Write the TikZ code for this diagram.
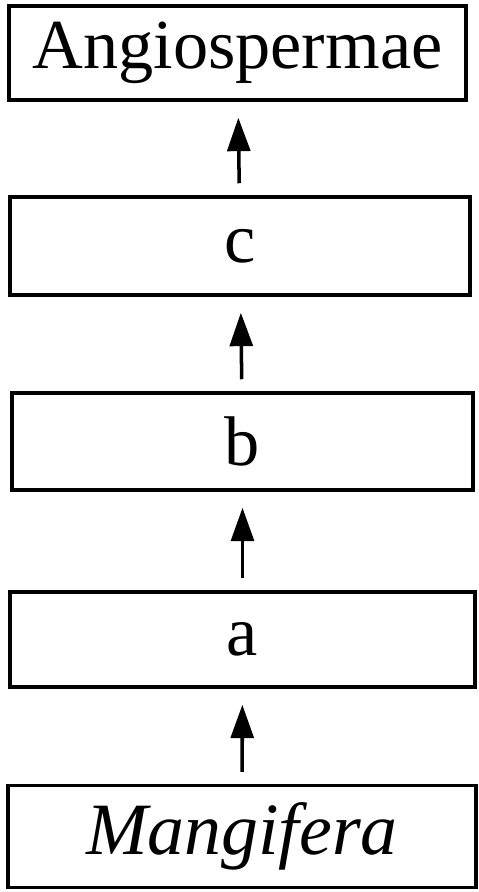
\documentclass[tikz,border=0pt]{standalone}
\usepackage{fontspec}
\setmainfont{Liberation Serif}
\usepackage{tikz}
\usetikzlibrary{arrows.meta}
\tikzstyle{taxon}=[rectangle,fill=white,draw=black,line width=1.0pt,inner sep=0pt,minimum width=4.6cm,minimum height=0.96cm,font=\fontsize{20}{24}\selectfont]
\tikzstyle{uparrow}=[-{Triangle[length=9.5pt,width=6.5pt]},line width=1.0pt,shorten <=.12cm,shorten >=.16cm]
\pgfdeclarelayer{edgelayer}
\pgfdeclarelayer{nodelayer}
\pgfsetlayers{edgelayer,nodelayer,main}

\begin{document}
\begin{tikzpicture}
	\useasboundingbox (0,-8.92) rectangle (4.78,0);
	\begin{pgfonlayer}{nodelayer}
		\node [style=taxon, minimum width=4.57cm, minimum height=0.94cm] (angio) at (2.375, -0.53) {Angiospermae};
		\node [style=taxon, minimum height=0.98cm] (c) at (2.40, -2.46) {c};
		\node [style=taxon, minimum width=4.61cm, minimum height=0.97cm] (b) at (2.425, -4.415) {b};
		\node [style=taxon, minimum width=4.65cm, minimum height=0.95cm] (a) at (2.425, -6.395) {a};
		\node [style=taxon, minimum width=4.68cm, minimum height=1.02cm, font=\fontsize{21}{25}\selectfont\itshape] (mangifera) at (2.42, -8.365) {Mangifera};
	\end{pgfonlayer}
	\begin{pgfonlayer}{edgelayer}
		\draw [style=uparrow] (c) to (angio);
		\draw [style=uparrow] (b) to (c);
		\draw [style=uparrow] (a) to (b);
		\draw [style=uparrow] (mangifera) to (a);
	\end{pgfonlayer}
\end{tikzpicture}
\end{document}
